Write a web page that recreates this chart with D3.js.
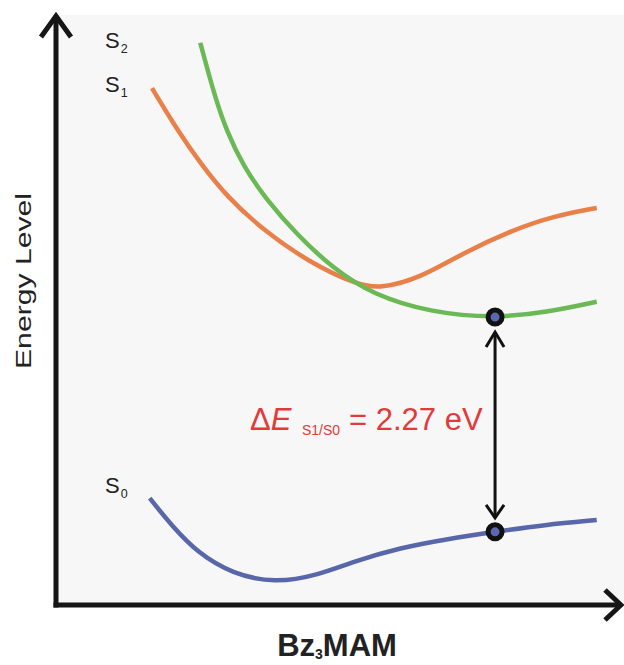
<!DOCTYPE html>
<html><head><meta charset="utf-8">
<script src="https://cdn.jsdelivr.net/npm/d3@7"></script>
<style>body{margin:0;background:#fff}svg{display:block}text{font-family:"Liberation Sans",Arial,sans-serif}</style>
</head><body><svg id="c" width="624" height="665"></svg>
<script>
// Reaction coordinate (0-100) and energy (0-100, arbitrary units)
const coordS1  = [16.9, 21.3, 25.4, 30.1, 36.4, 44.7, 53.0, 57.0, 64.1, 71.7, 80.5, 87.5, 95.2];
const energyS1 = [87.6, 80.6, 74.9, 69.2, 63.6, 58.0, 54.3, 53.6, 55.4, 59.7, 63.6, 65.9, 67.3];
const coordS2  = [25.4, 28.0, 30.1, 32.9, 37.1, 42.4, 48.8, 55.8, 65.8, 77.3, 86.4, 95.2];
const energyS2 = [95.3, 86.0, 80.2, 74.5, 68.6, 62.8, 57.0, 52.6, 49.6, 48.6, 49.6, 51.4];
const coordS0  = [16.5, 20.5, 25.0, 31.0, 38.5, 46.0, 52.5, 60.6, 69.0, 77.3, 86.0, 95.2];
const energyS0 = [18.1, 13.3, 8.8, 5.3, 3.7, 5.0, 7.4, 9.7, 11.2, 12.4, 13.6, 14.4];
const markerCoord = 77.3;
const markerEnergies = [48.8, 12.4];   // on S2 and S0
const gapLabel = "2.27 eV";
const xTitle = "Bz", xTitleSub = "3", xTitleEnd = "MAM";
const yTitle = "Energy Level";

const svg = d3.select("#c");
const x = d3.scaleLinear().domain([0, 100]).range([56, 624]);
const y = d3.scaleLinear().domain([0, 100]).range([605, 15]);

// background panel
svg.append("rect").attr("x", x(0)).attr("y", y(100)).attr("width", x(100) - x(0))
  .attr("height", y(0) - y(100)).attr("fill", "#f7f7f7");

const line = d3.line().x(d => x(d[0])).y(d => y(d[1])).curve(d3.curveBasis);
const series = [
  {c: coordS1, e: energyS1, color: "#ea8049"},
  {c: coordS2, e: energyS2, color: "#6ab954"},
  {c: coordS0, e: energyS0, color: "#5866aa"}
];
series.forEach(s => {
  svg.append("path").datum(d3.zip(s.c, s.e)).attr("d", line)
    .attr("fill", "none").attr("stroke", s.color).attr("stroke-width", 4.5)
    .attr("stroke-linecap", "butt");
});

// axes
const axisColor = "#161616";
svg.append("path").attr("d", `M${x(0)},${y(0)+2.5}V${y(100)+1}`)
  .attr("stroke", axisColor).attr("stroke-width", 5).attr("fill", "none");
svg.append("path").attr("d", `M${x(0)-15},${y(100)+22}L${x(0)},${y(100)+1}L${x(0)+15},${y(100)+22}`)
  .attr("stroke", axisColor).attr("stroke-width", 5).attr("fill", "none").attr("stroke-linejoin", "miter");
svg.append("path").attr("d", `M${x(0)-2.5},${y(0)}H${x(100)-3}`)
  .attr("stroke", axisColor).attr("stroke-width", 5).attr("fill", "none");
svg.append("path").attr("d", `M${x(100)-19},${y(0)-15}L${x(100)-3},${y(0)}L${x(100)-19},${y(0)+15}`)
  .attr("stroke", axisColor).attr("stroke-width", 5).attr("fill", "none").attr("stroke-linejoin", "miter");

// double arrow between markers
const ax = x(markerCoord), yTop = y(markerEnergies[0]) + 15, yBot = y(markerEnergies[1]) - 14;
svg.append("path").attr("d", `M${ax},${yTop}V${yBot}`).attr("stroke", "#111").attr("stroke-width", 3).attr("fill", "none");
svg.append("path").attr("d", `M${ax-9},${yTop+15}L${ax},${yTop}L${ax+9},${yTop+15}`).attr("stroke", "#111").attr("stroke-width", 3).attr("fill", "none");
svg.append("path").attr("d", `M${ax-9},${yBot-13}L${ax},${yBot}L${ax+9},${yBot-13}`).attr("stroke", "#111").attr("stroke-width", 3).attr("fill", "none");

// markers
svg.selectAll("circle.m").data(markerEnergies).join("circle").attr("class", "m")
  .attr("cx", x(markerCoord)).attr("cy", d => y(d)).attr("r", 7)
  .attr("fill", "#5a68b0").attr("stroke", "#111").attr("stroke-width", 5);

// state labels
const stateSubs = ["2", "1", "0"];
const labelPos = [48, 92, 493];
stateSubs.forEach((sub, i) => {
  const t = svg.append("text").attr("x", 105).attr("y", labelPos[i]).attr("font-size", 22).attr("fill", "#222");
  t.append("tspan").text("S");
  t.append("tspan").attr("font-size", 12.5).attr("dx", 1).attr("dy", 5).text(sub);
});

// delta E label
const red = "#e23a3a";
const dt = svg.append("text").attr("x", 250).attr("y", 430).attr("font-size", 31).attr("fill", red);
dt.append("tspan").text("Δ");
dt.append("tspan").attr("font-style", "italic").text("E");
dt.append("tspan").attr("x", 302).attr("dy", 5).attr("font-size", 14).text("S1/S0");
dt.append("tspan").attr("x", 349).attr("dy", -5).text("= " + gapLabel);

// axis titles
const xt = svg.append("text").attr("x", 337).attr("y", 656).attr("text-anchor", "middle")
  .attr("font-size", 31).attr("font-weight", "bold").attr("fill", "#222");
xt.append("tspan").text(xTitle);
xt.append("tspan").attr("font-size", 14).attr("dy", 3).text(xTitleSub);
xt.append("tspan").attr("dy", -3).text(xTitleEnd);

svg.append("text").attr("transform", "translate(31,281) rotate(-90)")
  .attr("text-anchor", "middle").attr("font-size", 22).attr("fill", "#222")
  .attr("textLength", 176).attr("lengthAdjust", "spacingAndGlyphs").text(yTitle);
</script>
</body></html>
